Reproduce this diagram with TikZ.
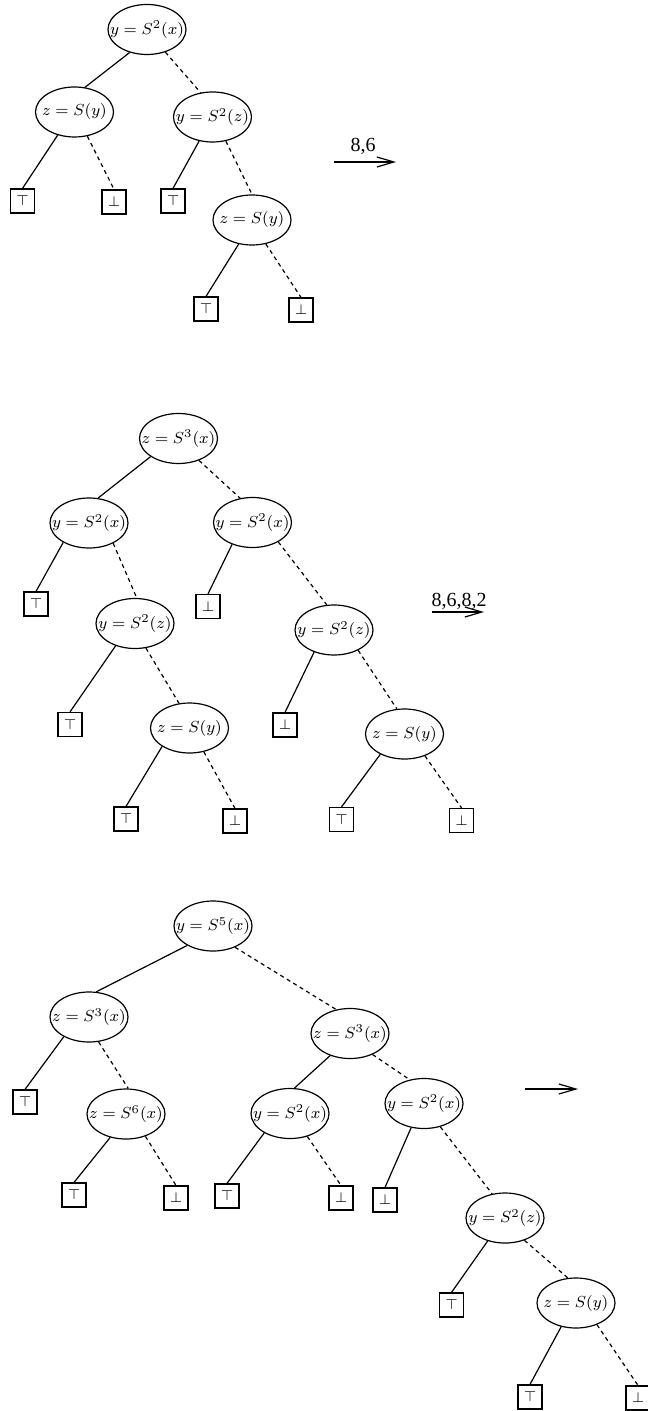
\documentclass[tikz,border=0pt]{standalone}
\usepackage{fontspec}
\usetikzlibrary{shapes.geometric,arrows.meta}
\newfontfamily\arrowfont{Liberation Serif}
% fixed-width box so that every ellipse gets the same size
\newcommand{\cellmath}[1]{\makebox[26pt]{$#1$}}
\begin{document}
\begin{tikzpicture}[x=0.5pt,y=-0.5pt,
  test/.style={ellipse, draw, line width=0.6pt, minimum width=39pt,
    minimum height=25pt, inner sep=0pt, font=\footnotesize},
  leaf/.style={rectangle, draw, line width=0.6pt, minimum size=12pt,
    inner sep=0pt, font=\scriptsize},
  yes/.style={line width=0.6pt},
  no/.style={line width=0.6pt, dash pattern=on 2pt off 1.8pt},
  step arrow/.style={line width=0.6pt, -{Straight Barb[length=8.5pt,width=5pt]}},
  step label/.style={anchor=base, inner sep=0pt, font=\arrowfont\fontsize{10}{12}\selectfont}]
\useasboundingbox (0,0) rectangle (647,1411);

% ---------- first diagram ----------
\node[test] (a1) at (147,29.5) {\cellmath{y=S^2(x)}};
\node[test] (a2) at (74.5,112) {\cellmath{z=S(y)}};
\node[test] (a3) at (212.5,117) {\cellmath{y=S^2(z)}};
\node[leaf] (a4) at (22.5,201) {$\top$};
\node[leaf] (a5) at (114,202) {$\bot$};
\node[leaf] (a6) at (173,201) {$\top$};
\node[test] (a7) at (252,220) {\cellmath{z=S(y)}};
\node[leaf] (a8) at (206,309) {$\top$};
\node[leaf] (a9) at (301,310) {$\bot$};

\draw[yes] (a1.233) -- (a2.67);
\draw[no]  (a1.309) -- (a3.116);
\draw[yes] (a2.234) -- (a4.north);
\draw[no]  (a2.298) -- (a5.north);
\draw[yes] (a3.241) -- (a6.north);
\draw[no]  (a3.299) -- (a7.north);
\draw[yes] (a7.241) -- (a8.north);
\draw[no]  (a7.300) -- (a9.north);

\coordinate (s1) at (334,162);
\coordinate (e1) at (396,162);
\draw[step arrow] (s1) -- (e1);
\node[step label] (l1) at (363,152) {8,6};

% ---------- second diagram ----------
\node[test] (b1) at (178.5,438.5) {\cellmath{z=S^3(x)}};
\node[test] (b2) at (89,523) {\cellmath{y=S^2(x)}};
\node[test] (b3) at (252.5,522.5) {\cellmath{y=S^2(x)}};
\node[leaf] (b4) at (36,604) {$\top$};
\node[test] (b5) at (135,623.5) {\cellmath{y=S^2(z)}};
\node[leaf] (b6) at (208,606.5) {$\bot$};
\node[test] (b7) at (334,630) {\cellmath{y=S^2(z)}};
\node[leaf] (b8) at (70,724.5) {$\top$};
\node[test] (b9) at (189.5,728) {\cellmath{z=S(y)}};
\node[leaf] (b10) at (285,725) {$\bot$};
\node[test] (b11) at (404.5,734) {\cellmath{z=S(y)}};
\node[leaf] (b12) at (126,819) {$\top$};
\node[leaf] (b13) at (235,821) {$\bot$};
\node[leaf] (b14) at (341.5,819.5) {$\top$};
\node[leaf] (b15) at (461.5,820.5) {$\bot$};

\draw[yes] (b1.213) -- (b2.70);
\draw[no]  (b1.313) -- (b3.117);
\draw[yes] (b2.217) -- (b4.north);
\draw[no]  (b2.320) -- (b5.86);
\draw[yes] (b3.227) -- (b6.north);
\draw[no]  (b3.323) -- (b7.106);
\draw[yes] (b5.229) -- (b8.north);
\draw[no]  (b5.294) -- (b9.113);
\draw[yes] (b7.228) -- (b10.north);
\draw[no]  (b7.320) -- (b11.107);
\draw[yes] (b9.214) -- (b12.north);
\draw[no]  (b9.301) -- (b13.north);
\draw[yes] (b11.220) -- (b14.north);
\draw[no]  (b11.313) -- (b15.north);

\coordinate (s2) at (432,612);
\coordinate (e2) at (484,612);
\draw[step arrow] (s2) -- (e2);
\node[step label] (l2) at (459,606) {8,6,8,2};

% ---------- third diagram ----------
\node[test] (c1) at (213,926) {\cellmath{y=S^5(x)}};
\node[test] (c2) at (89,1017) {\cellmath{z=S^3(x)}};
\node[test] (c3) at (350,1033.5) {\cellmath{z=S^3(x)}};
\node[leaf] (c4) at (25,1102) {$\top$};
\node[test] (c5) at (126,1114) {\cellmath{z=S^6(x)}};
\node[test] (c6) at (290,1113.5) {\cellmath{y=S^2(x)}};
\node[test] (c7) at (424,1103.5) {\cellmath{y=S^2(x)}};
\node[leaf] (c8) at (74,1195) {$\top$};
\node[leaf] (c9) at (176,1198) {$\bot$};
\node[leaf] (c10) at (227,1196) {$\top$};
\node[leaf] (c11) at (341,1198) {$\bot$};
\node[leaf] (c12) at (385,1200) {$\bot$};
\node[test] (c13) at (505,1218) {\cellmath{y=S^2(z)}};
\node[leaf] (c14) at (451.5,1305) {$\top$};
\node[test] (c15) at (576,1303) {\cellmath{z=S(y)}};
\node[leaf] (c16) at (530,1397) {$\top$};
\node[leaf] (c17) at (638,1398) {$\bot$};

\draw[yes] (c1.217) -- (c2.74);
\draw[no]  (c1.316) -- (c3.120);
\draw[yes] (c2.218) -- (c4.north);
\draw[no]  (c2.291) -- (c5.85);
\draw[yes] (c5.236) -- (c8.north);
\draw[no]  (c5.311) -- (c9.north);
\draw[yes] (c3.228) -- (c6.80);
\draw[no]  (c3.317) -- (c7.121);
\draw[yes] (c6.217) -- (c10.north);
\draw[no]  (c6.307) -- (c11.north);
\draw[yes] (c7.242) -- (c12.north);
\draw[no]  (c7.305) -- (c13.118);
\draw[yes] (c13.233) -- (c14.north);
\draw[no]  (c13.311) -- (c15.108);
\draw[yes] (c15.238) -- (c16.north);
\draw[no]  (c15.314) -- (c17.north);

\coordinate (s3) at (525,1089);
\coordinate (e3) at (578,1089);
\draw[step arrow] (s3) -- (e3);
\end{tikzpicture}
\end{document}
